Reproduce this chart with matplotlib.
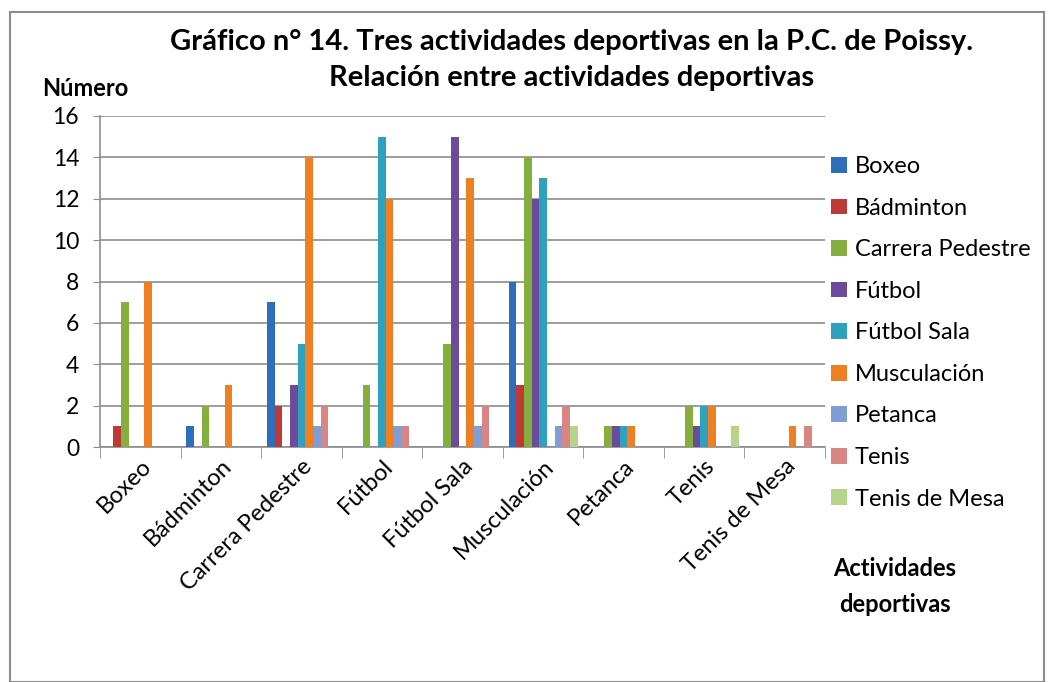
import matplotlib
matplotlib.use("Agg")
import matplotlib.pyplot as plt
import numpy as np
from matplotlib.patches import Rectangle

categories = ["Boxeo", "Bádminton", "Carrera Pedestre", "Fútbol", "Fútbol Sala",
              "Musculación", "Petanca", "Tenis", "Tenis de Mesa"]
series_names = ["Boxeo", "Bádminton", "Carrera Pedestre", "Fútbol", "Fútbol Sala",
                "Musculación", "Petanca", "Tenis", "Tenis de Mesa"]

boxeo         = [0, 1, 7, 0, 0, 8, 0, 0, 0]
badminton     = [1, 0, 2, 0, 0, 3, 0, 0, 0]
carrera       = [7, 2, 0, 3, 5, 14, 1, 2, 0]
futbol        = [0, 0, 3, 0, 15, 12, 1, 1, 0]
futbol_sala   = [0, 0, 5, 15, 0, 13, 1, 2, 0]
musculacion   = [8, 3, 14, 12, 13, 0, 1, 2, 1]
petanca       = [0, 0, 1, 1, 1, 1, 0, 0, 0]
tenis         = [0, 0, 2, 1, 2, 2, 0, 0, 1]
tenis_mesa    = [0, 0, 0, 0, 0, 1, 0, 1, 0]

series_values = [boxeo, badminton, carrera, futbol, futbol_sala,
                 musculacion, petanca, tenis, tenis_mesa]
colors = ["#2F6EBA", "#BE3A36", "#86AE3F", "#6B4C9A", "#2FA0BE",
          "#EE7F22", "#7F9ED6", "#D98584", "#B5D38A"]

yticks = [0, 2, 4, 6, 8, 10, 12, 14, 16]

plt.rcParams['font.family'] = ['Lato', 'DejaVu Sans']

fig = plt.figure(figsize=(10.54, 6.82), dpi=100)
ax = fig.add_axes([100/1054, 1-447/682, (825-100)/1054, (447-116)/682])

n = len(series_names)
w = 1/10.5
x = np.arange(len(categories))
for j, (name, vals, c) in enumerate(zip(series_names, series_values, colors)):
    ax.bar(x + (j - (n-1)/2)*w, vals, width=w, color=c, label=name, zorder=3)

ax.set_xlim(-0.5, len(categories)-0.5)
ax.set_ylim(0, 16)
ax.set_yticks(yticks)
ax.tick_params(axis='y', labelsize=16.5, length=5, color='#8c8c8c', pad=10)
ax.yaxis.grid(True, color='#8c8c8c', lw=1.2, zorder=0)
ax.set_xticks(x)
ax.set_xticklabels(categories, rotation=45, ha='right', rotation_mode='anchor', fontsize=17)
ax.tick_params(axis='x', length=0, pad=6)
ax.set_xticks(np.arange(-0.5, len(categories)), minor=True)
ax.tick_params(axis='x', which='minor', length=8, color='#8c8c8c')
for s in ['top', 'right']:
    ax.spines[s].set_visible(False)
for s in ['left', 'bottom']:
    ax.spines[s].set_color('#8c8c8c')
    ax.spines[s].set_linewidth(1.2)

fig.text(572/1054, 1-42/682, "Gráfico n° 14. Tres actividades deportivas en la P.C. de Poissy.",
         ha='center', va='center', fontsize=21, fontweight='bold')
fig.text(572/1054, 1-78/682, "Relación entre actividades deportivas",
         ha='center', va='center', fontsize=21, fontweight='bold')
fig.text(85/1054, 1-88/682, "Número", ha='center', va='center', fontsize=17, fontweight='bold')
fig.text(895/1054, 1-568/682, "Actividades", ha='center', va='center', fontsize=17, fontweight='bold')
fig.text(895/1054, 1-604/682, "deportivas", ha='center', va='center', fontsize=17, fontweight='bold')

leg = fig.legend(loc='upper left', bbox_to_anchor=(810/1054, 1-135/682), frameon=False,
                 fontsize=17, handlelength=0.65, handleheight=0.65, handletextpad=0.35,
                 labelspacing=0.87)

fig.patches.append(Rectangle((10/1054, 0), 1034/1054, 1-12/682, transform=fig.transFigure,
                             fill=False, edgecolor='#8c8c8c', lw=1.5))

fig.savefig("out.png", dpi=100)
